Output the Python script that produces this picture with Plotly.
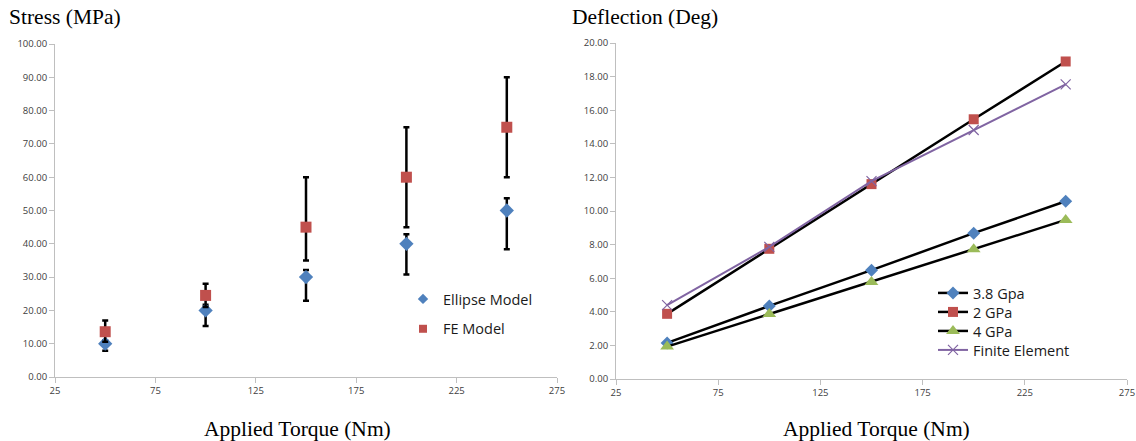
import plotly.graph_objects as go

# ---- Data: Stress chart ----
torque_s = [50, 100, 150, 200, 250]
ellipse_stress = [10.0, 20.0, 30.0, 40.0, 50.0]
ellipse_err_plus = [1.0, 1.7, 2.1, 2.9, 3.7]
ellipse_err_minus = [2.1, 4.7, 7.1, 9.2, 11.6]
fe_stress = [13.6, 24.5, 45.0, 60.0, 75.0]
fe_err_plus = [3.4, 3.5, 15.0, 15.0, 15.0]
fe_err_minus = [3.0, 3.5, 10.0, 15.0, 15.0]

# ---- Data: Deflection chart ----
torque_d = [50, 100, 150, 200, 245]
defl_38 = [2.15, 4.35, 6.48, 8.68, 10.58]
defl_2 = [3.88, 7.75, 11.6, 15.46, 18.9]
defl_4 = [1.93, 3.87, 5.78, 7.72, 9.47]
defl_fe = [4.4, 7.86, 11.78, 14.82, 17.54]

x_ticks = [25, 75, 125, 175, 225, 275]
stress_ticks = [0, 10, 20, 30, 40, 50, 60, 70, 80, 90, 100]
defl_ticks = [0, 2, 4, 6, 8, 10, 12, 14, 16, 18, 20]

BLUE = "#4F81BD"
RED = "#C0504D"
GREEN = "#9BBB59"
PURPLE = "#8064A2"
AXC = "#BFBFBF"
TXT = "#404040"
TICKFONT = dict(family="Open Sans, Lato, sans-serif", size=9.5, color=TXT)
LEGFONT = dict(family="Open Sans, Lato, sans-serif", size=14.5, color="#1a1a1a")
SERIF = "Liberation Serif, Times New Roman, serif"

W, H = 1136, 441


def px_x(p):
    return p / W


def px_y(p):
    return 1 - p / H


fig = go.Figure()

fig.add_trace(go.Scatter(
    x=torque_s, y=ellipse_stress, mode="markers", name="Ellipse Model",
    marker=dict(symbol="diamond", size=11, color=BLUE),
    error_y=dict(type="data", array=ellipse_err_plus, arrayminus=ellipse_err_minus,
                 color="black", thickness=2.5, width=3),
    xaxis="x", yaxis="y", showlegend=False,
))
fig.add_trace(go.Scatter(
    x=torque_s, y=fe_stress, mode="markers", name="FE Model",
    marker=dict(symbol="square", size=11, color=RED),
    error_y=dict(type="data", array=fe_err_plus, arrayminus=fe_err_minus,
                 color="black", thickness=2.5, width=3),
    xaxis="x", yaxis="y", showlegend=False,
))
# legend entries (smaller symbols, as in the reference legend)
fig.add_trace(go.Scatter(
    x=[None], y=[None], mode="markers", name="Ellipse Model",
    marker=dict(symbol="diamond", size=8, color=BLUE),
    xaxis="x", yaxis="y", legend="legend", legendgroup="a",
))
fig.add_trace(go.Scatter(
    x=[None], y=[None], mode="markers", name="FE Model",
    marker=dict(symbol="square", size=8, color=RED),
    xaxis="x", yaxis="y", legend="legend", legendgroup="b",
))

fig.add_trace(go.Scatter(
    x=torque_d, y=defl_38, mode="lines+markers", name="3.8 Gpa",
    line=dict(color="black", width=2.5),
    marker=dict(symbol="diamond", size=10, color=BLUE),
    xaxis="x2", yaxis="y2", legend="legend2",
))
fig.add_trace(go.Scatter(
    x=torque_d, y=defl_2, mode="lines+markers", name="2 GPa",
    line=dict(color="black", width=2.5),
    marker=dict(symbol="square", size=10, color=RED),
    xaxis="x2", yaxis="y2", legend="legend3",
))
fig.add_trace(go.Scatter(
    x=torque_d, y=defl_4, mode="lines+markers", name="4 GPa",
    line=dict(color="black", width=2.5),
    marker=dict(symbol="triangle-up", size=12, color=GREEN),
    xaxis="x2", yaxis="y2", legend="legend4",
))
fig.add_trace(go.Scatter(
    x=torque_d, y=defl_fe, mode="lines+markers", name="Finite Element",
    line=dict(color=PURPLE, width=2),
    marker=dict(symbol="x-thin-open", size=10, color=PURPLE,
                line=dict(color=PURPLE, width=1.2)),
    xaxis="x2", yaxis="y2", legend="legend5",
))

axis_common = dict(showline=True, linecolor=AXC, linewidth=1, showgrid=False,
                   zeroline=False, ticks="outside", tickcolor=AXC, ticklen=5,
                   tickfont=TICKFONT, automargin=False)

title_font = dict(family=SERIF, size=21.5, color="black")


def right_legend(ycenter):
    return dict(x=px_x(933), y=px_y(ycenter), xanchor="left", yanchor="middle",
                bgcolor="rgba(0,0,0,0)", font=LEGFONT)


fig.update_layout(
    width=W, height=H,
    margin=dict(l=0, r=0, t=0, b=0),
    paper_bgcolor="white", plot_bgcolor="white",
    showlegend=True,
    xaxis=dict(domain=[px_x(55), px_x(557)], range=[25, 275], tickvals=x_ticks,
               anchor="y", **axis_common),
    yaxis=dict(domain=[px_y(377), px_y(44)], range=[0, 100], tickvals=stress_ticks,
               tickformat=".2f", anchor="x", **axis_common),
    xaxis2=dict(domain=[px_x(616), px_x(1127)], range=[25, 275], tickvals=x_ticks,
                anchor="y2", **axis_common),
    yaxis2=dict(domain=[px_y(379), px_y(43)], range=[0, 20], tickvals=defl_ticks,
                tickformat=".2f", anchor="x2", **axis_common),
    legend=dict(x=px_x(403), y=px_y(283), xanchor="left", yanchor="top",
                bgcolor="rgba(0,0,0,0)", font=LEGFONT, tracegroupgap=8),
    legend2=right_legend(293),
    legend3=right_legend(312),
    legend4=right_legend(331),
    legend5=right_legend(350),
    annotations=[
        dict(text="Stress (MPa)", x=px_x(7), y=px_y(17), xref="paper", yref="paper",
             xanchor="left", yanchor="middle", showarrow=False, font=title_font),
        dict(text="Deflection (Deg)", x=px_x(570), y=px_y(17), xref="paper", yref="paper",
             xanchor="left", yanchor="middle", showarrow=False, font=title_font),
        dict(text="Applied Torque (Nm)", x=px_x(297), y=px_y(429), xref="paper", yref="paper",
             xanchor="center", yanchor="middle", showarrow=False, font=title_font),
        dict(text="Applied Torque (Nm)", x=px_x(876), y=px_y(429), xref="paper", yref="paper",
             xanchor="center", yanchor="middle", showarrow=False, font=title_font),
    ],
)

fig.write_html(
    "out.html",
    config={"displayModeBar": False},
    post_script="document.body.style.margin='0';document.body.style.overflow='hidden';",
)
